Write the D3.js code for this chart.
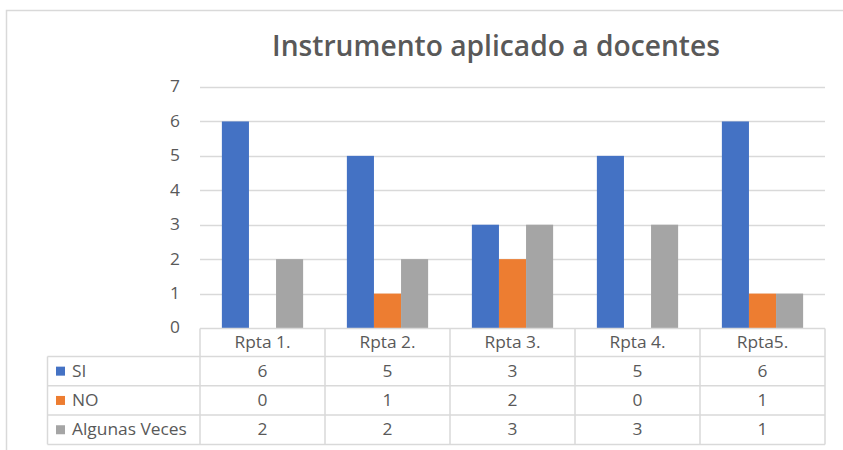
<!DOCTYPE html>
<html><head><meta charset="utf-8">
<script src="https://cdn.jsdelivr.net/npm/d3@7"></script>
<style>body{margin:0;background:#fff}svg{display:block}</style>
</head><body>
<svg id="c" width="843" height="450"></svg>
<script>
const categories = ["Rpta 1.", "Rpta 2.", "Rpta 3.", "Rpta 4.", "Rpta5."];
const seriesNames = ["SI", "NO", "Algunas Veces"];
const siValues = [6, 5, 3, 5, 6];
const noValues = [0, 1, 2, 0, 1];
const algunasValues = [2, 2, 3, 3, 1];
const yTicks = [0, 1, 2, 3, 4, 5, 6, 7];
const colors = ["#4472C4", "#ED7D31", "#A5A5A5"];
const title = "Instrumento aplicado a docentes";

(function () {
const series = [siValues, noValues, algunasValues];
const svg = d3.select("#c");
const font = "'Open Sans', 'Noto Sans', sans-serif";
const textCol = "#595959";
const lineCol = "#D9D9D9";
const fs = 15.5, sx = 1.12;

function label(g, x, y, txt, anchor) {
  return g.append("text")
    .attr("transform", `translate(${x},${y}) scale(${sx},1)`)
    .attr("text-anchor", anchor || "middle")
    .attr("font-family", font).attr("font-size", fs).attr("fill", textCol).text(txt);
}

// outer frame
svg.append("rect").attr("x", 6.5).attr("y", 10.5).attr("width", 900).attr("height", 500)
  .attr("fill", "none").attr("stroke", "#D9D9D9").attr("stroke-width", 1.5);

// title
const t = svg.append("text").attr("x", 496).attr("y", 56).attr("text-anchor", "middle")
  .attr("font-family", font).attr("font-size", 22).attr("font-weight", 600)
  .attr("fill", textCol).text(title);
const tw = t.node().getComputedTextLength();
t.attr("font-size", 22 * 448 / tw);

const pL = 200, pR = 825, pT = 87, pB = 328;
const x = d3.scaleBand().domain(categories).range([pL, pR]);
const y = d3.scaleLinear().domain([0, 7]).range([pB, pT]);
const groupW = x.bandwidth() * 0.65;
const xs = d3.scaleBand().domain(seriesNames).range([0, groupW]);

// gridlines
svg.append("g").selectAll("line").data(yTicks.filter(d => d > 0)).join("line")
  .attr("x1", pL).attr("x2", pR)
  .attr("y1", d => Math.round(y(d)) + 0.5).attr("y2", d => Math.round(y(d)) + 0.5)
  .attr("stroke", lineCol).attr("stroke-width", 1.5);

// y labels
const yAxis = d3.axisLeft(y).tickValues(yTicks).tickFormat(d3.format("d")).tickSize(0).tickPadding(20);
const ya = svg.append("g").attr("transform", `translate(${pL},0)`).call(yAxis);
ya.select(".domain").remove();
ya.selectAll("text").attr("font-family", font).attr("font-size", fs).attr("fill", textCol)
  .attr("transform", function () { return `translate(-20,0) scale(${sx},1)`; }).attr("x", 0)
  .attr("text-anchor", "end");

// bars
series.forEach((vals, si) => {
  svg.append("g").selectAll("rect").data(categories.map((c, i) => ({c, v: vals[i]}))).join("rect")
    .attr("x", d => x(d.c) + (x.bandwidth() - groupW) / 2 + xs(seriesNames[si]))
    .attr("width", xs.bandwidth())
    .attr("y", d => y(d.v)).attr("height", d => y(0) - y(d.v))
    .attr("fill", colors[si]);
});

// data table
const legLeft = 47.5;
const rowTop = 328.5, hdrH = 28, rowH = 29.3;
const rowYs = [rowTop, rowTop + hdrH, rowTop + hdrH + rowH, rowTop + hdrH + 2 * rowH, rowTop + hdrH + 3 * rowH];
const tbl = svg.append("g").attr("stroke", lineCol).attr("stroke-width", 1.5);
tbl.append("line").attr("x1", pL).attr("x2", pR).attr("y1", rowYs[0]).attr("y2", rowYs[0]);
for (let i = 1; i < rowYs.length; i++) {
  tbl.append("line").attr("x1", legLeft).attr("x2", pR).attr("y1", rowYs[i]).attr("y2", rowYs[i]);
}
tbl.append("line").attr("x1", legLeft).attr("x2", legLeft).attr("y1", rowYs[1]).attr("y2", rowYs[4]);
const vx = categories.map(c => x(c)).concat([pR]);
vx.forEach(v => tbl.append("line").attr("x1", v).attr("x2", v).attr("y1", rowYs[0]).attr("y2", rowYs[4]));

const tg = svg.append("g");
// header text
categories.forEach(c => label(tg, x(c) + x.bandwidth() / 2, (rowYs[0] + rowYs[1]) / 2 + 5.5, c));

// rows
series.forEach((vals, si) => {
  const cy = (rowYs[si + 1] + rowYs[si + 2]) / 2;
  svg.append("rect").attr("x", 56).attr("y", cy - 4.5).attr("width", 9).attr("height", 9).attr("fill", colors[si]);
  label(tg, 72, cy + 5.5, seriesNames[si], "start");
  categories.forEach((c, i) => label(tg, x(c) + x.bandwidth() / 2, cy + 5.5, vals[i]));
});
})();
</script>
</body></html>
